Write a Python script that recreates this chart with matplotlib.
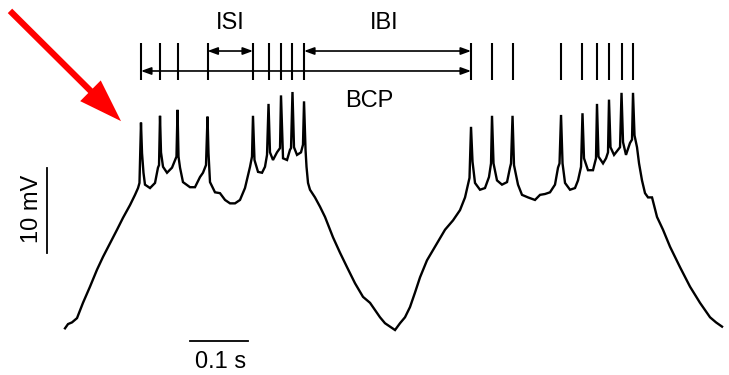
import matplotlib
matplotlib.use("Agg")
import matplotlib.pyplot as plt
import numpy as np

plt.rcParams['font.family'] = ['Liberation Sans', 'DejaVu Sans']

# membrane potential between spikes (time in ms, Vm in mV)
base_t = [0, 5.2, 12.1, 20.7, 31.0, 43.1, 55.2, 65.5, 77.6, 89.7, 100.0, 112.1, 120.7, 125.9, 128.4,
          132.8, 135.3, 137.9, 146.6, 155.2, 160.3, 162.1,
          165.5, 169.0, 175.9, 184.5, 189.7, 192.2,
          195.7, 198.3, 203.4, 215.5, 224.1, 232.8, 237.9, 243.1,
          247.4, 250.0, 258.6, 267.2, 275.9, 284.5, 293.1, 301.7, 310.3, 319.0, 322.4,
          326.7, 332.8, 339.7, 344.8, 348.3,
          353.4, 358.6, 365.5, 370.7,
          375.9, 382.8, 387.9, 389.7,
          394.8, 400.0, 406.9, 410.3,
          414.7, 416.4, 419.0, 422.4, 431.0, 439.7, 448.3, 462.1, 474.1, 486.2, 500.0, 513.8,
          525.9, 543.1, 551.7, 560.3, 569.0, 577.6, 586.2, 594.8, 603.4, 612.1, 624.1, 637.9,
          655.2, 669.0, 681.0, 689.7, 694.8, 697.4,
          702.6, 706.9, 715.5, 724.1, 731.0, 734.5,
          738.8, 744.8, 753.4, 762.1, 767.2, 769.0,
          774.1, 781.0, 787.9, 798.3, 810.3, 819.0, 827.6, 836.2, 844.8, 850.0, 852.6,
          857.8, 862.1, 870.7, 879.3, 884.5, 889.7,
          894.8, 901.7, 910.3, 915.5,
          919.8, 927.6, 932.8, 936.2,
          940.5, 946.6, 953.4, 956.9,
          962.1, 967.2, 974.1, 977.6,
          981.9, 986.2, 989.7, 994.8, 1000.0, 1005.2, 1012.1, 1020.7, 1031.0, 1043.1, 1060.3,
          1077.6, 1094.8, 1112.1, 1122.4, 1132.8]
base_v = [-59.8, -59.3, -59.1, -58.6, -56.8, -54.9, -52.9, -51.4, -49.8, -48.2, -46.8, -45.3, -44.1, -43.3, -42.7,
          -39.2, -41.5, -42.9, -43.3, -42.7, -40.9, -40.6,
          -39.1, -40.8, -41.5, -40.9, -40.0, -39.6,
          -39.6, -40.9, -42.6, -43.2, -43.2, -42.0, -41.5, -40.6,
          -39.2, -42.6, -43.8, -43.9, -44.7, -45.1, -45.1, -44.7, -43.3, -40.8, -39.6,
          -40.0, -41.4, -41.5, -40.8, -39.4,
          -39.1, -40.0, -39.1, -38.6,
          -39.8, -40.0, -38.8, -38.6,
          -38.5, -39.4, -39.1, -38.2,
          -38.8, -40.8, -42.7, -43.5, -44.4, -45.5, -46.7, -49.1, -50.9, -52.6, -54.5, -56.1,
          -56.8, -58.5, -59.2, -59.6, -60.0, -59.2, -58.5, -57.3, -55.6, -53.8, -51.8, -50.2,
          -48.2, -47.1, -45.9, -44.4, -42.9, -42.1,
          -40.2, -42.7, -43.5, -43.3, -42.0, -40.4,
          -40.4, -42.4, -42.9, -42.6, -40.9, -40.4,
          -40.6, -42.9, -44.1, -44.4, -44.7, -44.1, -44.0, -43.8, -42.9, -40.9, -40.4,
          -40.4, -42.7, -43.5, -43.3, -42.4, -40.8,
          -39.8, -41.2, -41.2, -39.8,
          -39.6, -40.4, -39.8, -39.1,
          -38.5, -39.4, -38.8, -38.5,
          -37.9, -39.4, -38.0, -37.6,
          -37.1, -38.5, -40.4, -42.4, -43.9, -44.4, -44.4, -46.7, -48.2, -50.2, -52.6,
          -54.9, -56.8, -58.5, -59.1, -59.6]

# spike times (ms) and spike peaks (mV)
spike_t = [131.0, 163.8, 194.0, 245.7, 324.1, 350.9, 372.4, 392.2, 412.1,
           700.0, 736.2, 771.6, 855.2, 892.2, 917.2, 937.9, 959.5, 979.3]
spike_v = [-35.6, -34.8, -34.1, -34.9, -34.8, -33.4, -32.4, -32.0, -33.1,
           -36.1, -34.8, -34.8, -34.7, -34.5, -33.4, -32.9, -32.1, -32.1]

t_all = np.concatenate([base_t, spike_t])
v_all = np.concatenate([base_v, spike_v])
order = np.argsort(t_all)

fig = plt.figure(figsize=(7.29, 3.75), dpi=100)
ax = fig.add_axes([0, 0, 1, 1])
ax.set_xlim(-112.07, 1144.8)
ax.set_ylim(-65.29, -21.18)
ax.axis('off')

ax.plot(t_all[order], v_all[order], color='black', lw=1.7, solid_joinstyle='miter')

# raster of spike times above the trace
ax.vlines(spike_t, -30.59, -26.24, color='black', lw=1.5)

arrow = dict(arrowstyle='<|-|>,head_length=0.6,head_width=0.22', mutation_scale=10,
             lw=1.2, color='black', shrinkA=0, shrinkB=0)
y_top, y_bot = -27.18, -29.53
ax.annotate('', xy=(spike_t[4], y_top), xytext=(spike_t[3], y_top), arrowprops=arrow)
ax.annotate('', xy=(spike_t[9], y_top), xytext=(spike_t[8], y_top), arrowprops=arrow)
ax.annotate('', xy=(spike_t[9], y_bot), xytext=(spike_t[0], y_bot), arrowprops=arrow)

ax.text((spike_t[3] + spike_t[4]) / 2, -24.59, 'ISI', fontsize=17, ha='center', va='baseline')
ax.text(550, -24.59, 'IBI', fontsize=17, ha='center', va='baseline')
ax.text(524, -33.76, 'BCP', fontsize=17, ha='center', va='baseline')

# scale bars
ax.plot([-31.0, -31.0], [-50.94, -40.94], color='black', lw=1.3)
ax.text(-46.6, -45.76, '10 mV', fontsize=17, rotation=90, rotation_mode='anchor',
        ha='center', va='baseline')
ax.plot([215.5, 315.5], [-61.29, -61.29], color='black', lw=1.3)
ax.text(268, -64.47, '0.1 s', fontsize=17, ha='center', va='baseline')

# red pointer towards the first burst
ax.annotate('', xy=(0.166, 0.677), xycoords='axes fraction',
            xytext=(0.0137, 0.971), textcoords='axes fraction',
            arrowprops=dict(arrowstyle='simple,head_length=3.1,head_width=2.1,tail_width=0.45',
                            mutation_scale=10, color='#ff0000', lw=0, shrinkA=0, shrinkB=0))

fig.savefig('out.png', dpi=100)
